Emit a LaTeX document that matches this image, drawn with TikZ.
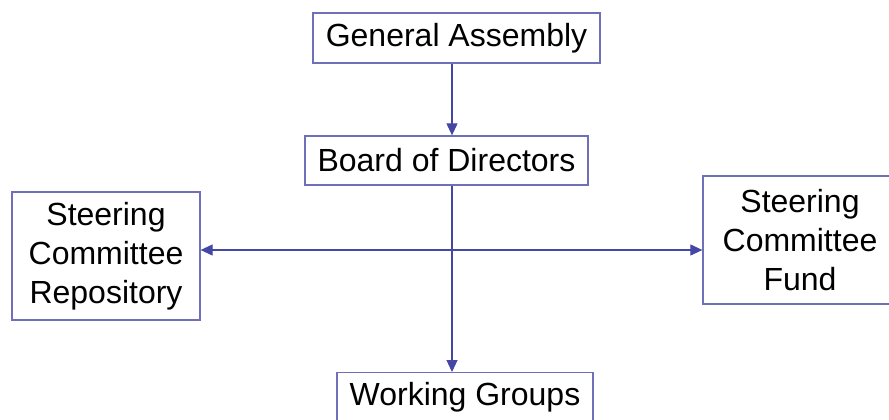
\documentclass[tikz,border=0pt]{standalone}
\usepackage{fontspec}
\setmainfont{Liberation Sans}
\usetikzlibrary{arrows.meta}
\definecolor{boxc}{RGB}{112,112,184}
\definecolor{arrc}{RGB}{70,70,165}
\begin{document}
\begin{tikzpicture}[x=1pt,y=-1pt,
  orgbox/.style={draw=boxc,line width=1.3pt,fill=white,inner sep=0pt,align=center,
    font=\fontsize{32}{39}\selectfont,text=black},
  conn/.style={draw=arrc,line width=1.1pt,-{Triangle[length=12pt,width=11pt]}}]
\useasboundingbox (0,0) rectangle (889,420);
\clip (0,0) rectangle (889,420);
\fill[white] (0,0) rectangle (889,420);
\node[orgbox,minimum width=287pt,minimum height=50pt] (ga) at (456.5,38) {General Assembly};
\node[orgbox,minimum width=283pt,minimum height=49pt] (bod) at (446.5,160.5) {Board of Directors};
\node[orgbox,minimum width=188pt,minimum height=128pt] (scr) at (106,256) {Steering\\Committee\\Repository};
\node[orgbox,minimum width=194pt,minimum height=128pt] (scf) at (800,240) {Steering\\Committee\\Fund};
\node[orgbox,minimum width=256pt,text height=33pt,text depth=22pt,anchor=north] (wg) at (465,372) {Working Groups};
\coordinate (j) at (452,250);
\draw[conn] (ga.south -| j) -- (bod.north -| j);
\draw[conn] (bod.south -| j) -- (wg.north -| j);
\draw[conn] (j) -- (scr.east |- j);
\draw[conn] (j) -- (scf.west |- j);
\end{tikzpicture}
\end{document}
